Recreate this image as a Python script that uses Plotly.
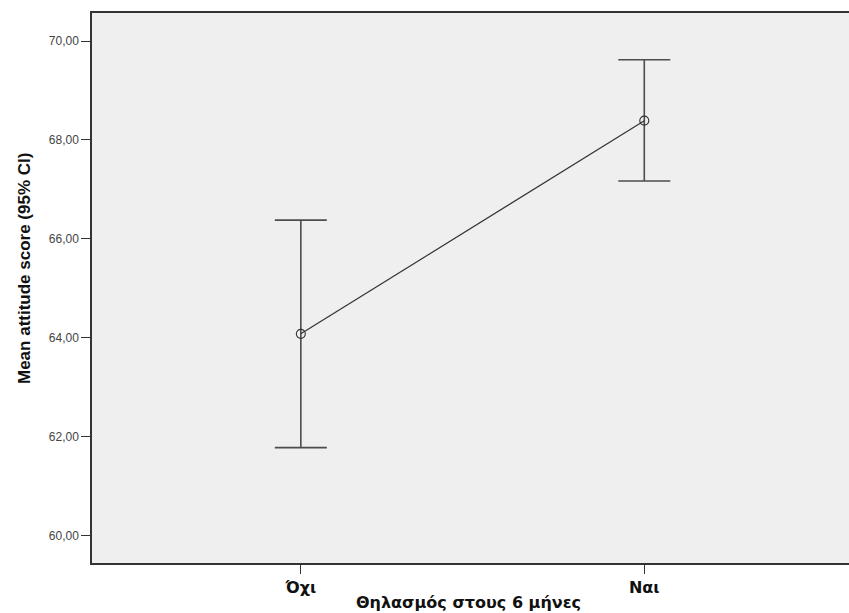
import plotly.graph_objects as go

# Mean attitude score by breastfeeding status at 6 months, with 95% CI
categories = ["Όχι", "Ναι"]
means = [64.08, 68.39]
ci_lower = [61.78, 67.17]
ci_upper = [66.38, 69.62]

y_ticks = [60, 62, 64, 66, 68, 70]

err_plus = [u - m for u, m in zip(ci_upper, means)]
err_minus = [m - l for m, l in zip(means, ci_lower)]

fig = go.Figure()
fig.add_trace(go.Scatter(
    x=categories,
    y=means,
    mode="lines+markers",
    line=dict(color="#333333", width=1.2),
    marker=dict(symbol="circle-open", size=9, color="#333333", line=dict(width=1.1)),
    error_y=dict(
        type="data",
        symmetric=False,
        array=err_plus,
        arrayminus=err_minus,
        color="#4d4d4d",
        thickness=1.6,
        width=26,
    ),
    showlegend=False,
    hoverinfo="skip",
))

fig.update_layout(
    width=849,
    height=613,
    margin=dict(l=92, r=0, t=13, b=50),
    paper_bgcolor="white",
    plot_bgcolor="#efefef",
    separators=",.",
    font=dict(family="Liberation Sans, Arial, sans-serif"),
    xaxis=dict(
        type="category",
        range=[-0.608, 1.596],
        tickvals=categories,
        ticktext=["<b>" + c + "</b>" for c in categories],
        showgrid=False,
        zeroline=False,
        showline=True,
        linecolor="#333333",
        linewidth=1.5,
        mirror=True,
        ticks="outside",
        ticklen=9,
        tickwidth=1,
        tickcolor="#333333",
        tickfont=dict(size=16, color="#111111", family="DejaVu Sans, sans-serif"),
    ),
    yaxis=dict(
        range=[59.448, 70.566],
        tickvals=y_ticks,
        tickformat=".2f",
        showgrid=False,
        zeroline=False,
        showline=True,
        linecolor="#333333",
        linewidth=1.5,
        ticks="outside",
        ticklen=9,
        tickwidth=1,
        tickcolor="#333333",
        tickfont=dict(size=12, color="#444444"),
    ),
    annotations=[
        dict(
            text="<b>Θηλασμός στους 6 μήνες</b>",
            xref="paper", yref="paper",
            x=(468 - 92) / 757, y=0,
            yshift=-39,
            xanchor="center", yanchor="middle",
            showarrow=False,
            font=dict(size=16, color="#111111", family="DejaVu Sans, sans-serif"),
        ),
        dict(
            text="<b>Mean attitude score (95% CI)</b>",
            xref="paper", yref="paper",
            x=0, xshift=-68,
            y=(563 - 269) / 550,
            xanchor="center", yanchor="middle",
            textangle=-90,
            showarrow=False,
            font=dict(size=17, color="#111111"),
        ),
    ],
)

fig.write_html("out.html")
